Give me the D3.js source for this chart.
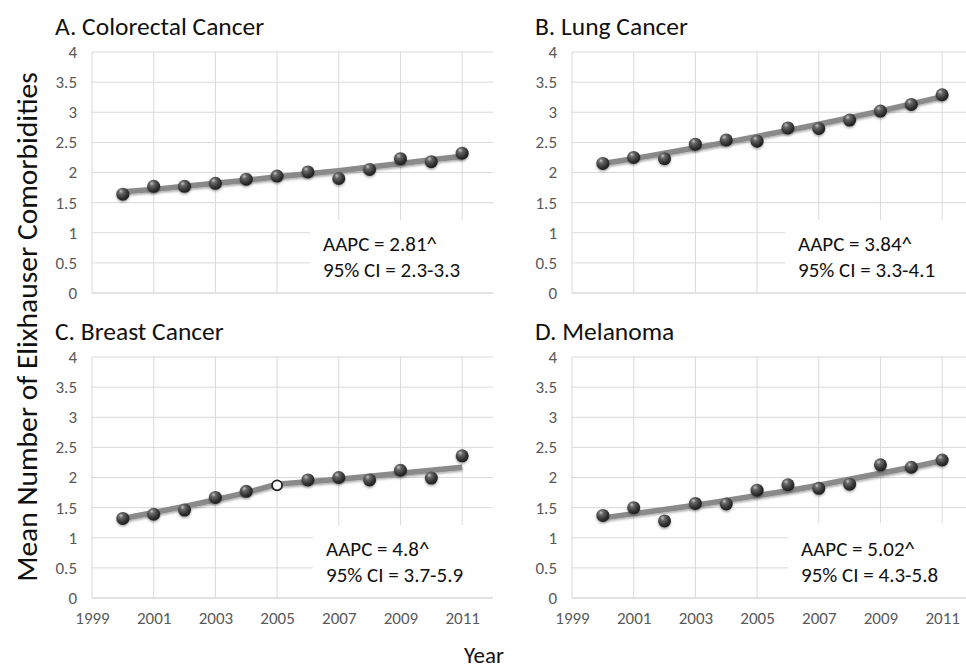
<!DOCTYPE html>
<html>
<head>
<meta charset="utf-8">
<script src="https://cdn.jsdelivr.net/npm/d3@7"></script>
<style>
  html, body { margin: 0; padding: 0; background: #fff; }
  svg { display: block; }
  text { font-family: Carlito, Lato, "Open Sans", sans-serif; }
</style>
</head>
<body>
<svg id="chart" width="966" height="670"></svg>
<script>
// Years observed
const years = [2000, 2001, 2002, 2003, 2004, 2005, 2006, 2007, 2008, 2009, 2010, 2011];

// Observed mean comorbidity counts
const colorectalObs = [1.64, 1.77, 1.77, 1.82, 1.89, 1.94, 2.01, 1.90, 2.05, 2.23, 2.18, 2.32];
const lungObs       = [2.15, 2.25, 2.23, 2.47, 2.54, 2.52, 2.74, 2.73, 2.87, 3.02, 3.13, 3.29];
const breastObs     = [1.32, 1.39, 1.46, 1.67, 1.77, 1.87, 1.96, 2.00, 1.96, 2.12, 1.99, 2.36];
const melanomaObs   = [1.37, 1.50, 1.28, 1.57, 1.56, 1.79, 1.88, 1.82, 1.89, 2.21, 2.17, 2.29];

// Joinpoint-fitted trend values
const colorectalFit = [1.68, 1.72, 1.77, 1.82, 1.87, 1.93, 1.98, 2.03, 2.09, 2.15, 2.21, 2.27];
const lungFit       = [2.15, 2.23, 2.32, 2.41, 2.50, 2.60, 2.70, 2.80, 2.91, 3.02, 3.14, 3.26];
const breastFit     = [1.32, 1.42, 1.52, 1.63, 1.75, 1.89, 1.93, 1.97, 2.02, 2.07, 2.12, 2.17];
const melanomaFit   = [1.33, 1.40, 1.47, 1.54, 1.62, 1.70, 1.78, 1.87, 1.97, 2.07, 2.17, 2.28];

// Panel titles and annotation text
const panelTitles = ["A. Colorectal Cancer", "B. Lung Cancer", "C. Breast Cancer", "D. Melanoma"];
const aapcLabels  = ["AAPC = 2.81^", "AAPC = 3.84^", "AAPC = 4.8^", "AAPC = 5.02^"];
const ciLabels    = ["95% CI = 2.3-3.3", "95% CI = 3.3-4.1", "95% CI = 3.7-5.9", "95% CI = 4.3-5.8"];

// Axis ticks
const yTicks = [0, 0.5, 1, 1.5, 2, 2.5, 3, 3.5, 4];
const xTicks = [1999, 2001, 2003, 2005, 2007, 2009, 2011];

const observed = [colorectalObs, lungObs, breastObs, melanomaObs];
const fitted   = [colorectalFit, lungFit, breastFit, melanomaFit];
// Index of the hollow marker (joinpoint) per panel, -1 if none
const hollowIndex = [-1, -1, 5, -1];

const svg = d3.select("#chart");
const fontStack = "Carlito, Lato, 'Open Sans', sans-serif";

// Sphere-like marker fill
const defs = svg.append("defs");
const grad = defs.append("radialGradient")
  .attr("id", "ball").attr("cx", "38%").attr("cy", "32%").attr("r", "70%")
  .attr("fx", "35%").attr("fy", "28%");
grad.append("stop").attr("offset", "0%").attr("stop-color", "#c8c8c8");
grad.append("stop").attr("offset", "25%").attr("stop-color", "#6a6a6a");
grad.append("stop").attr("offset", "70%").attr("stop-color", "#333333");
grad.append("stop").attr("offset", "100%").attr("stop-color", "#1c1c1c");

const shadow = defs.append("filter").attr("id", "shadow")
  .attr("x", "-20%").attr("y", "-20%").attr("width", "140%").attr("height", "160%");
shadow.append("feDropShadow").attr("dx", 0).attr("dy", 1.5).attr("stdDeviation", 1.2)
  .attr("flood-color", "#000").attr("flood-opacity", 0.35);

// Panel placement
const plotW = 401, plotH = 241;
const panels = [
  { left: 92,  top: 52,  showX: false, boxX: 310, boxY: 220 },
  { left: 572, top: 52,  showX: false, boxX: 785, boxY: 220 },
  { left: 92,  top: 357, showX: true,  boxX: 313, boxY: 525 },
  { left: 572, top: 357, showX: true,  boxX: 788, boxY: 523 }
];

const gridColor = "#d9d9d9";
const tickColor = "#595959";

panels.forEach((p, i) => {
  const x = d3.scaleLinear().domain([1999, 2012]).range([p.left, p.left + plotW]);
  const y = d3.scaleLinear().domain([0, 4]).range([p.top + plotH, p.top]);
  const g = svg.append("g");

  // Horizontal gridlines
  g.append("g").selectAll("line").data(yTicks).join("line")
    .attr("x1", x(1999)).attr("x2", x(2012))
    .attr("y1", d => y(d)).attr("y2", d => y(d))
    .attr("stroke", gridColor).attr("stroke-width", 1);

  // Vertical gridlines
  g.append("g").selectAll("line").data(xTicks).join("line")
    .attr("x1", d => x(d)).attr("x2", d => x(d))
    .attr("y1", y(4)).attr("y2", y(0))
    .attr("stroke", gridColor).attr("stroke-width", 1);

  // Y axis labels
  const yAxis = d3.axisLeft(y).tickValues(yTicks).tickSize(0).tickPadding(15)
    .tickFormat(d3.format("~g"));
  const ya = g.append("g").attr("transform", `translate(${p.left},0)`).call(yAxis);
  ya.select(".domain").remove();
  ya.selectAll("text").attr("fill", tickColor)
    .style("font-size", "17px").style("font-family", fontStack);

  // X axis labels (bottom row only)
  if (p.showX) {
    const xAxis = d3.axisBottom(x).tickValues(xTicks).tickSize(0).tickPadding(14)
      .tickFormat(d3.format("d"));
    const xa = g.append("g").attr("transform", `translate(0,${y(0)})`).call(xAxis);
    xa.select(".domain").remove();
    xa.selectAll("text").attr("fill", tickColor)
      .style("font-size", "17px").style("font-family", fontStack);
  }

  // White backing for the annotation
  g.append("rect")
    .attr("x", p.boxX).attr("y", p.boxY)
    .attr("width", x(2012) - p.boxX + 1).attr("height", y(0) - p.boxY - 1)
    .attr("fill", "#fff");

  // Bottom axis line
  g.append("line")
    .attr("x1", x(1999)).attr("x2", x(2012))
    .attr("y1", y(0)).attr("y2", y(0))
    .attr("stroke", gridColor).attr("stroke-width", 1);

  // Fitted trend line
  const line = d3.line().x((d, k) => x(years[k])).y(d => y(d));
  g.append("path").datum(fitted[i])
    .attr("d", line)
    .attr("fill", "none").attr("stroke", "#8a8a8a").attr("stroke-width", 5.5)
    .attr("stroke-linejoin", "round")
    .attr("filter", "url(#shadow)");

  // Observed markers
  g.append("g").selectAll("circle").data(observed[i]).join("circle")
    .attr("cx", (d, k) => x(years[k]))
    .attr("cy", d => y(d))
    .attr("r", (d, k) => k === hollowIndex[i] ? 5 : 6.5)
    .attr("fill", (d, k) => k === hollowIndex[i] ? "#fff" : "url(#ball)")
    .attr("stroke", (d, k) => k === hollowIndex[i] ? "#222" : "none")
    .attr("stroke-width", 1.8)
    .attr("filter", (d, k) => k === hollowIndex[i] ? null : "url(#shadow)");

  // Panel title
  svg.append("text")
    .attr("x", p.left - 37).attr("y", p.top - 17)
    .attr("fill", "#111").style("font-size", "25.5px")
    .text(panelTitles[i]);

  // Annotation text
  const ax = p.boxX + 13;
  svg.append("text").attr("x", ax).attr("y", p.top + 199)
    .attr("fill", "#111").style("font-size", "21px").text(aapcLabels[i]);
  svg.append("text").attr("x", ax).attr("y", p.top + 225)
    .attr("fill", "#111").style("font-size", "21px").text(ciLabels[i]);
});

// Shared axis titles
svg.append("text")
  .attr("transform", "translate(37,327) rotate(-90)")
  .attr("text-anchor", "middle")
  .attr("fill", "#111").style("font-size", "29.5px")
  .text("Mean Number of Elixhauser Comorbidities");

svg.append("text")
  .attr("x", 484).attr("y", 663)
  .attr("text-anchor", "middle")
  .attr("fill", "#111").style("font-size", "23px")
  .text("Year");
</script>
</body>
</html>
